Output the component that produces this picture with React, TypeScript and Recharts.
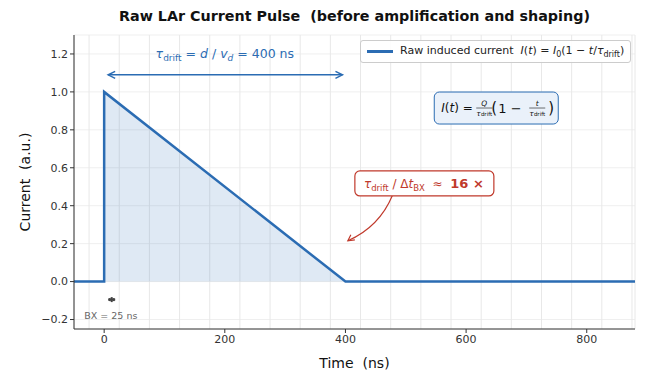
import React from "react"
import {
  Area,
  CartesianGrid,
  ComposedChart,
  ReferenceDot,
  ReferenceLine,
  XAxis,
  YAxis,
} from "recharts"

// pulse shape: flat, step up at t=0, linear fall to zero at tau_drift = 400 ns
const timeNs = [-50, 0, 0, 400, 880]
const current = [0, 0, 1, 0, 0]

const xTicks = [0, 200, 400, 600, 800]
const yTicks = [-0.2, 0, 0.2, 0.4, 0.6, 0.8, 1.0, 1.2]
// one light grid line per bunch crossing (25 ns)
const bxGridNs = [
  -25, 0, 25, 50, 75, 100, 125, 150, 175, 200, 225, 250, 275, 300, 325, 350, 375, 400, 425, 450, 475, 500,
  525, 550, 575, 600, 625, 650, 675, 700, 725, 750, 775, 800, 825, 850, 875,
]

const BLUE = "#2b6cb3"
const RED = "#c0392b"
const FONT = "DejaVu Sans, sans-serif"
const NB = "\u00a0"

const chartData = timeNs.map((t, i) => ({ t, i: current[i] }))

const fmtY = (v: number) => (v < 0 ? "\u2212" + Math.abs(v).toFixed(1) : v.toFixed(1))

function DriftArrow(props: any) {
  const { x1, y1, x2, y2 } = props
  const a = x1 + 4
  const b = x2 - 3
  return (
    <g stroke={BLUE} strokeWidth={1.5} fill="none">
      <line x1={a} y1={y1} x2={b} y2={y2} />
      <polyline points={`${a + 7},${y1 - 3.5} ${a},${y1} ${a + 7},${y1 + 3.5}`} />
      <polyline points={`${b - 7},${y2 - 3.5} ${b},${y2} ${b - 7},${y2 + 3.5}`} />
    </g>
  )
}

function CurvedArrow(props: any) {
  const { x1, y1, x2, y2 } = props
  const mx = (x1 + x2) / 2
  const my = (y1 + y2) / 2
  const cx = mx + (y2 - y1) * 0.2
  const cy = my - (x2 - x1) * 0.2
  return (
    <g stroke={RED} strokeWidth={1.2} fill="none">
      <path d={`M${x1},${y1} Q${cx},${cy} ${x2},${y2}`} />
      <polyline points={`${x2 + 7},${y2 - 1} ${x2},${y2} ${x2 + 3},${y2 - 6}`} />
    </g>
  )
}

function DriftLabel(props: any) {
  const { cx, cy } = props
  return (
    <text x={cx} y={cy} textAnchor="middle" fill={BLUE} fontFamily={FONT} fontSize={12.5}>
      <tspan fontStyle="italic">τ</tspan>
      <tspan fontSize={9} dy={3}>drift</tspan>
      <tspan dy={-3}>{NB}={NB}</tspan>
      <tspan fontStyle="italic">d</tspan>
      <tspan>{NB}/{NB}</tspan>
      <tspan fontStyle="italic">v</tspan>
      <tspan fontSize={9} fontStyle="italic" dy={3}>d</tspan>
      <tspan dy={-3}>{NB}={NB}400 ns</tspan>
    </text>
  )
}

function FormulaBox(props: any) {
  const { cx, cy } = props
  const left = cx - 62
  return (
    <g fontFamily={FONT}>
      <rect x={left} y={cy - 16} width={124} height={32} rx={5} fill="#eaf1fa" stroke={BLUE} strokeWidth={1} />
      <text x={left + 7} y={cy + 4} fontSize={12} fill="#111">
        <tspan fontStyle="italic">I</tspan>
        <tspan>(</tspan>
        <tspan fontStyle="italic">t</tspan>
        <tspan>){NB}=</tspan>
      </text>
      <text x={cx - 12} y={cy - 2} fontSize={7.5} textAnchor="middle" fontStyle="italic" fill="#111">Q</text>
      <line x1={cx - 20} y1={cy} x2={cx - 4} y2={cy} stroke="#111" strokeWidth={0.6} />
      <text x={cx - 12} y={cy + 8} fontSize={7.5} textAnchor="middle" fill="#111">
        <tspan fontStyle="italic">τ</tspan>
        <tspan fontSize={5.5}>drift</tspan>
      </text>
      <text x={cx - 5} y={cy + 5} fontSize={15} fill="#111">(</text>
      <text x={cx + 2} y={cy + 5} fontSize={13} fill="#111">1{NB}−</text>
      <text x={cx + 41} y={cy - 2} fontSize={7.5} textAnchor="middle" fontStyle="italic" fill="#111">t</text>
      <line x1={cx + 33} y1={cy} x2={cx + 49} y2={cy} stroke="#111" strokeWidth={0.6} />
      <text x={cx + 41} y={cy + 8} fontSize={7.5} textAnchor="middle" fill="#111">
        <tspan fontStyle="italic">τ</tspan>
        <tspan fontSize={5.5}>drift</tspan>
      </text>
      <text x={cx + 52} y={cy + 5} fontSize={15} fill="#111">)</text>
    </g>
  )
}

function RatioBox(props: any) {
  const { cx, cy } = props
  return (
    <g fontFamily={FONT}>
      <rect x={cx - 69} y={cy - 12} width={139} height={25} rx={5} fill="#fff" stroke={RED} strokeWidth={1.2} />
      <text x={cx} y={cy + 5} textAnchor="middle" fill={RED} fontSize={12}>
        <tspan fontStyle="italic">τ</tspan>
        <tspan fontSize={8.5} dy={3}>drift</tspan>
        <tspan dy={-3}>{NB}/{NB}Δ</tspan>
        <tspan fontStyle="italic">t</tspan>
        <tspan fontSize={8.5} dy={3}>BX</tspan>
        <tspan dy={-3}>{NB}{NB}≈{NB}{NB}</tspan>
        <tspan fontWeight="bold" fontSize={13}>16{NB}×</tspan>
      </text>
    </g>
  )
}

function BxMarker(props: any) {
  const { cx, cy } = props
  return (
    <g stroke="#444" strokeWidth={2}>
      <line x1={cx - 3.5} y1={cy} x2={cx + 3.5} y2={cy} />
      <line x1={cx} y1={cy - 2.5} x2={cx} y2={cy + 2.5} />
      <line x1={cx - 2} y1={cy - 1.5} x2={cx - 2} y2={cy + 1.5} />
      <line x1={cx + 2} y1={cy - 1.5} x2={cx + 2} y2={cy + 1.5} />
    </g>
  )
}

function BxLabel(props: any) {
  const { cx, cy } = props
  return (
    <text x={cx} y={cy} fill="#666" fontSize={9.5} fontFamily={FONT}>
      BX = 25 ns
    </text>
  )
}

function LegendBox() {
  return (
    <div
      style={{
        position: "absolute",
        left: 360,
        top: 40,
        display: "flex",
        alignItems: "center",
        border: "1px solid #ccc",
        borderRadius: 3,
        background: "rgba(255,255,255,0.9)",
        padding: "3px 6px",
        fontFamily: FONT,
        fontSize: 11,
        color: "#222",
        whiteSpace: "nowrap",
        zIndex: 2,
      }}
    >
      <span style={{ display: "inline-block", width: 26, height: 2.5, background: BLUE, marginRight: 7 }} />
      <span>
        Raw induced current&nbsp; <i>I</i>(<i>t</i>) = <i>I</i>
        <sub style={{ fontSize: 8 }}>0</sub>(1 − <i>t</i>/<i>τ</i>
        <sub style={{ fontSize: 8 }}>drift</sub>)
      </span>
    </div>
  )
}

export default function App() {
  return (
    <div style={{ position: "absolute", left: 0, top: 0, width: 645, height: 374, background: "#fff" }}>
      <div
        style={{
          position: "absolute",
          left: 74,
          width: 561,
          top: 8,
          textAlign: "center",
          fontFamily: FONT,
          fontWeight: "bold",
          fontSize: 14.3,
          color: "#111",
          zIndex: 2,
        }}
      >
        Raw LAr Current Pulse&nbsp; (before amplification and shaping)
      </div>
      <LegendBox />
      <ComposedChart width={645} height={374} data={chartData} margin={{ top: 35, right: 10, bottom: 0, left: 0 }}>
        <CartesianGrid vertical={false} stroke="#efefef" strokeWidth={1} />
        <CartesianGrid xAxisId="bx" horizontal={false} stroke="#e8e8e8" strokeWidth={1} />
        <XAxis xAxisId="bx" dataKey="t" type="number" domain={[-50, 880]} ticks={bxGridNs} allowDataOverflow hide />
        <XAxis
          dataKey="t"
          type="number"
          domain={[-50, 880]}
          ticks={xTicks}
          allowDataOverflow
          height={45}
          stroke="#333"
          tickSize={4}
          tick={{ fill: "#333", fontSize: 11, fontFamily: FONT }}
          label={{ value: `Time${NB}${NB}(ns)`, position: "insideBottom", offset: 6, fill: "#111", fontSize: 14, fontFamily: FONT }}
        />
        <YAxis
          type="number"
          domain={[-0.25, 1.3]}
          ticks={yTicks}
          allowDataOverflow
          width={74}
          stroke="#333"
          tickSize={4}
          tickFormatter={fmtY}
          tick={{ fill: "#333", fontSize: 11, fontFamily: FONT }}
          label={(p: any) => (
            <text
              x={30}
              y={p.viewBox.y + p.viewBox.height / 2}
              transform={`rotate(-90, 30, ${p.viewBox.y + p.viewBox.height / 2})`}
              textAnchor="middle"
              fill="#111"
              fontSize={14}
              fontFamily={FONT}
            >
              Current{NB}{NB}(a.u.)
            </text>
          )}
        />
        <Area
          type="linear"
          dataKey="i"
          stroke={BLUE}
          strokeWidth={2.5}
          fill={BLUE}
          fillOpacity={0.15}
          isAnimationActive={false}
          dot={false}
          activeDot={false}
        />
        <ReferenceLine segment={[{ x: 0, y: 1.09 }, { x: 400, y: 1.09 }]} shape={DriftArrow} />
        <ReferenceDot x={200} y={1.18} r={0} shape={DriftLabel} />
        <ReferenceDot x={650} y={0.915} r={0} shape={FormulaBox} />
        <ReferenceLine segment={[{ x: 478, y: 0.455 }, { x: 404, y: 0.215 }]} shape={CurvedArrow} />
        <ReferenceDot x={530} y={0.52} r={0} shape={RatioBox} />
        <ReferenceDot x={12.5} y={-0.095} r={0} shape={BxMarker} />
        <ReferenceDot x={-33} y={-0.195} r={0} shape={BxLabel} />
      </ComposedChart>
    </div>
  )
}
